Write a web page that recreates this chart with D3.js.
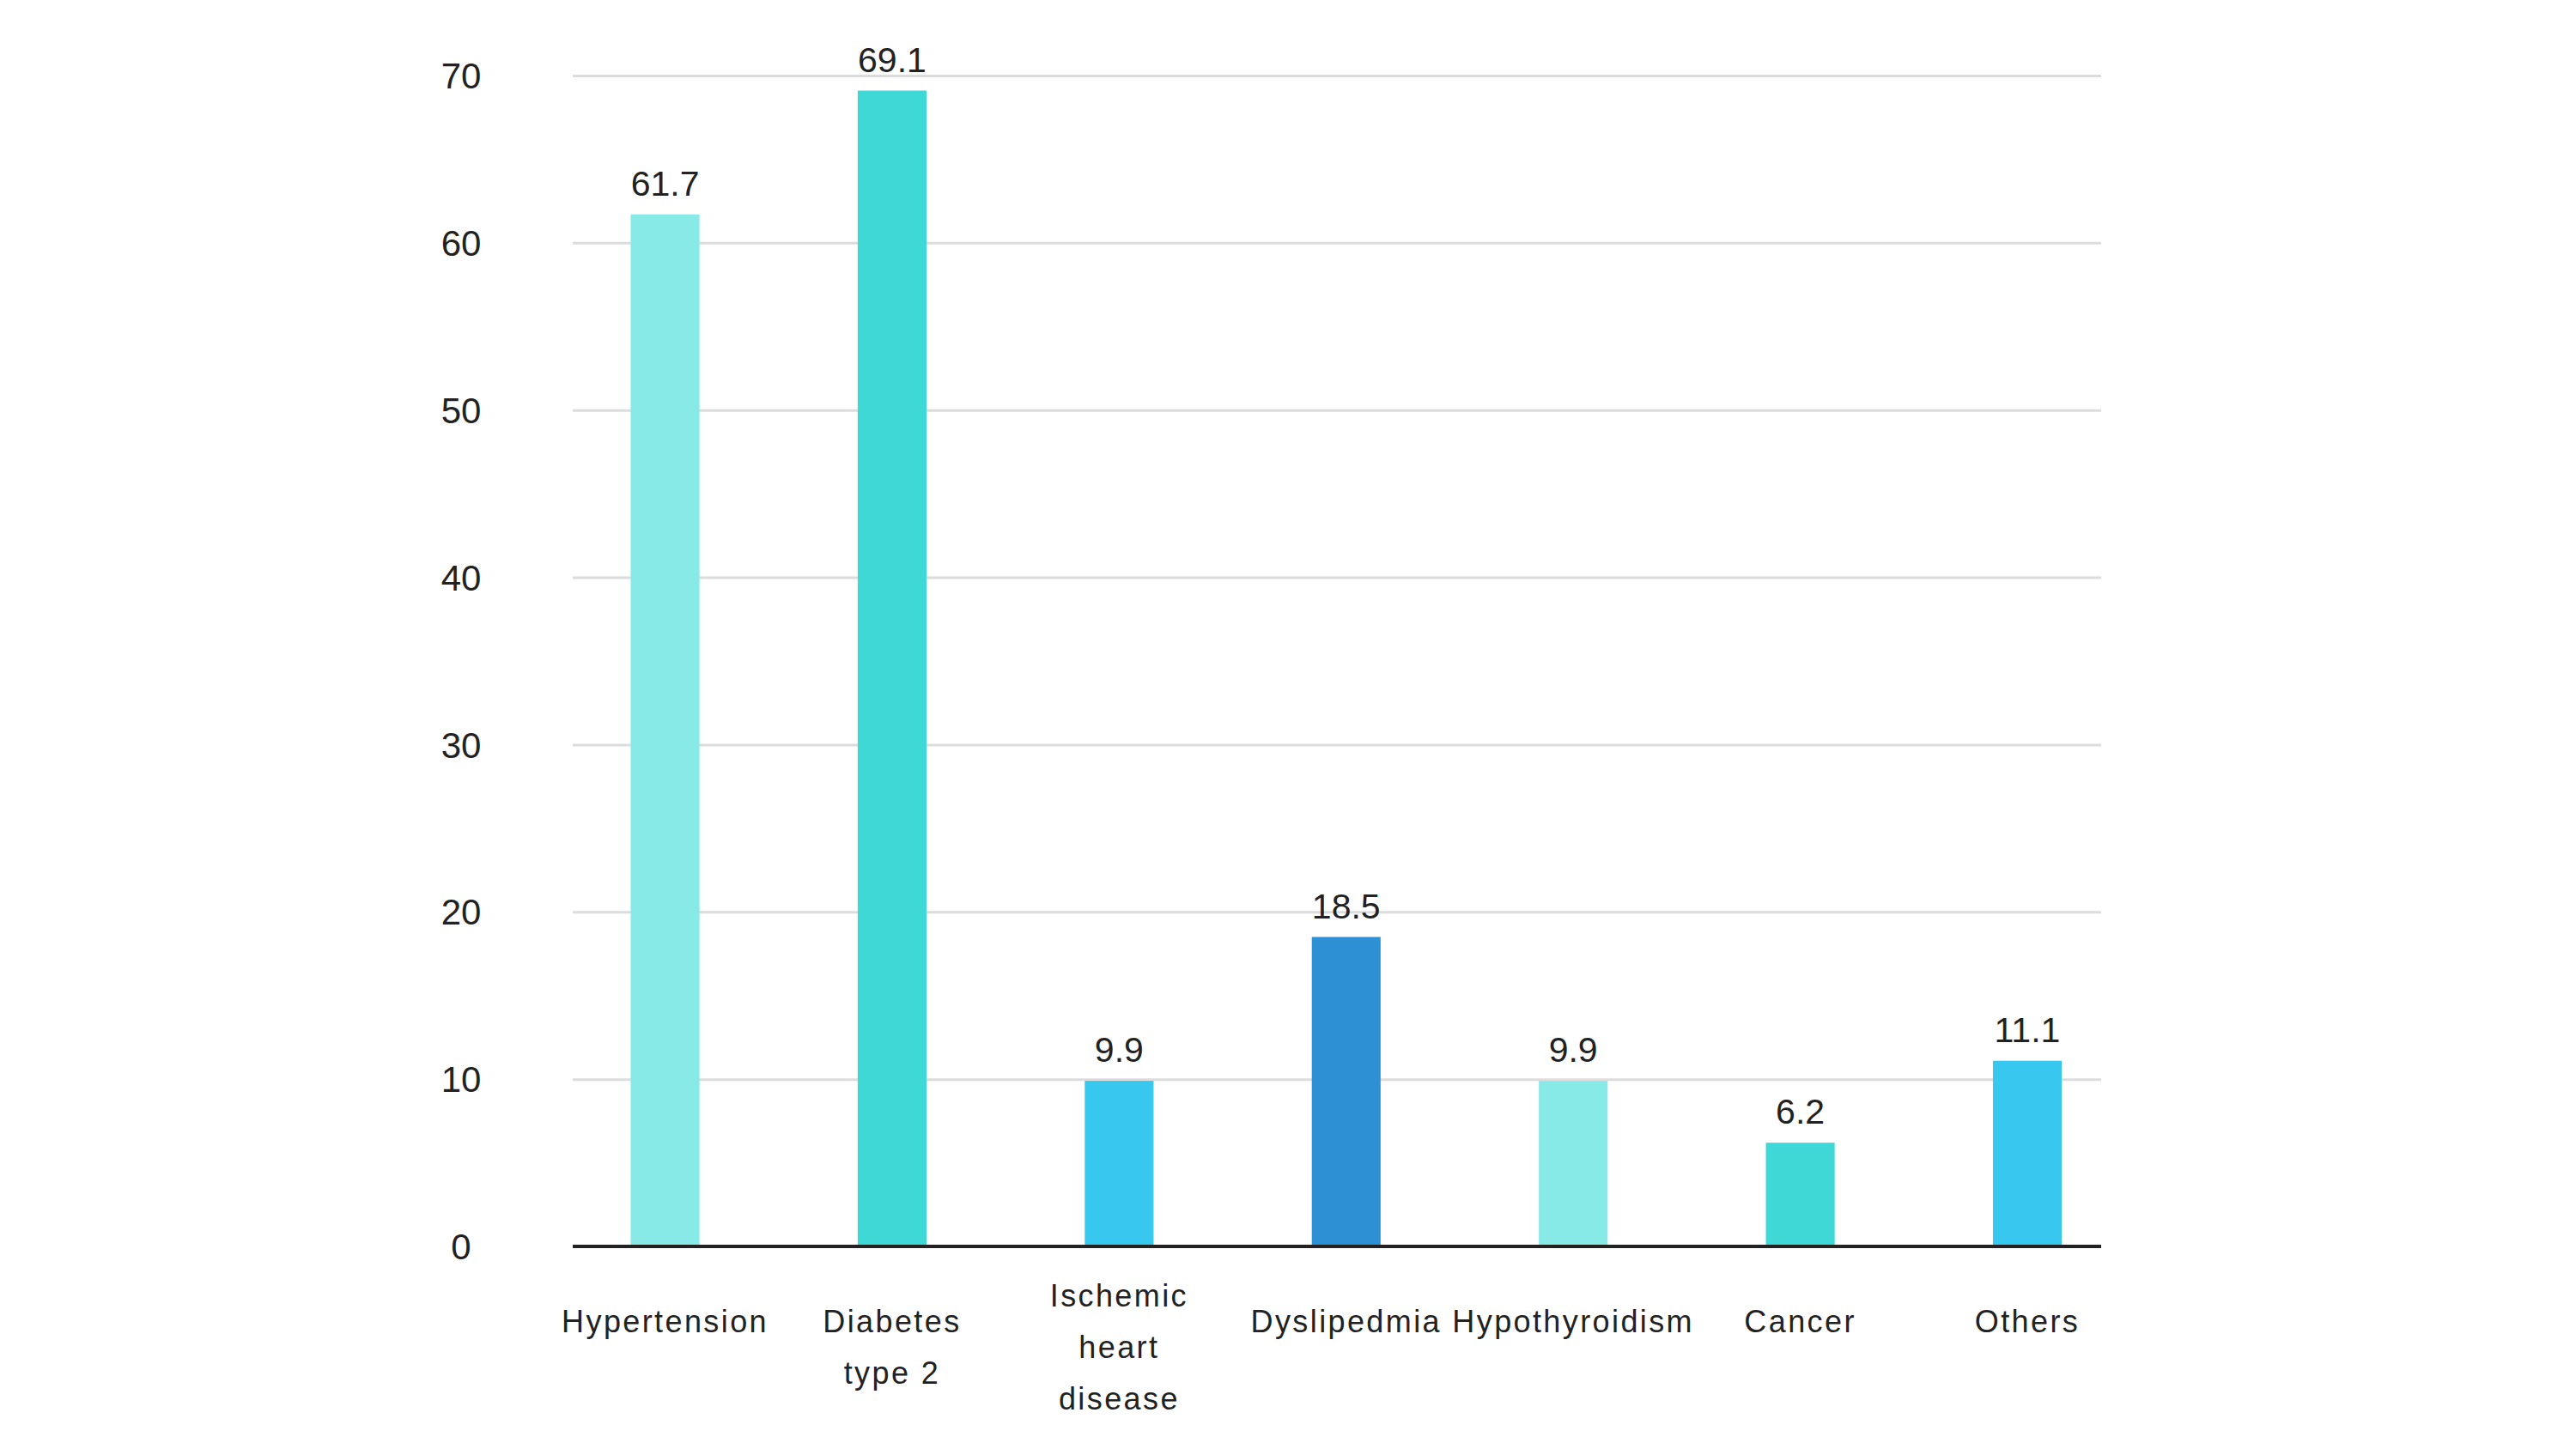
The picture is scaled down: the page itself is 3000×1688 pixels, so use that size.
<!DOCTYPE html>
<html>
<head>
<meta charset="utf-8">
<script src="https://cdn.jsdelivr.net/npm/d3@7"></script>
<style>
  html, body { margin: 0; padding: 0; background: #fff; }
  svg { display: block; font-family: "Liberation Sans", Arial, sans-serif; }
</style>
</head>
<body>
<svg id="chart" width="3000" height="1688"></svg>
<script>
// data
const categories = ["Hypertension", "Diabetes type 2", "Ischemic heart disease", "Dyslipedmia", "Hypothyroidism", "Cancer", "Others"]
const labelLines = [["Hypertension"], ["Diabetes", "type 2"], ["Ischemic", "heart", "disease"], ["Dyslipedmia"], ["Hypothyroidism"], ["Cancer"], ["Others"]]
const values = [61.7, 69.1, 9.9, 18.5, 9.9, 6.2, 11.1]
const barColors = ["#88eae7", "#3ed9d6", "#38c7ee", "#2d90d5", "#88eae7", "#3ed9d6", "#38c7ee"]
const yTicks = [0, 10, 20, 30, 40, 50, 60, 70]

const plotLeft = 667, plotRight = 2447, plotTop = 88, plotBottom = 1452

const svg = d3.select("#chart")

const x = d3.scaleBand()
  .domain(categories)
  .range([plotLeft, plotRight])
  .paddingInner(0.697)
  .paddingOuter(0.2145)
  .align(0.595)

const y = d3.scaleLinear()
  .domain([0, 70])
  .range([plotBottom, plotTop])

// gridlines + tick labels
const yAxis = svg.append("g")
  .attr("transform", `translate(${plotLeft},0)`)
  .call(d3.axisLeft(y).tickValues(yTicks).tickSize(-(plotRight - plotLeft)).tickFormat(d3.format("d")))

yAxis.select(".domain").remove()
yAxis.selectAll(".tick line")
  .attr("stroke", "#dcdcdc")
  .attr("stroke-width", 3)
yAxis.selectAll(".tick text")
  .attr("x", -130)
  .attr("dy", "0.35em")
  .attr("text-anchor", "middle")
  .attr("fill", "#222")
  .style("font-size", "42px")

// bars
svg.append("g")
  .selectAll("rect")
  .data(values)
  .join("rect")
    .attr("x", (d, i) => x(categories[i]))
    .attr("y", d => y(d))
    .attr("width", x.bandwidth())
    .attr("height", d => y(0) - y(d))
    .attr("fill", (d, i) => barColors[i])

// baseline
svg.append("line")
  .attr("x1", plotLeft)
  .attr("x2", plotRight)
  .attr("y1", y(0))
  .attr("y2", y(0))
  .attr("stroke", "#222")
  .attr("stroke-width", 4)

// value labels
svg.append("g")
  .selectAll("text")
  .data(values)
  .join("text")
    .attr("x", (d, i) => x(categories[i]) + x.bandwidth() / 2)
    .attr("y", d => y(d) - 22)
    .attr("text-anchor", "middle")
    .attr("fill", "#222")
    .style("font-size", "41px")
    .text(d => d)

// category labels (wrapped)
const lineHeight = 60
const catLabels = svg.append("g")
  .selectAll("text")
  .data(labelLines)
  .join("text")
    .attr("x", (d, i) => x(categories[i]) + x.bandwidth() / 2)
    .attr("y", d => 1552 - Math.max(0, d.length - 2) * lineHeight / 2)
    .attr("text-anchor", "middle")
    .attr("fill", "#222")
    .style("font-size", "36px")
    .style("letter-spacing", "2.4px")

catLabels.each(function(lines) {
  const t = d3.select(this)
  const cx = t.attr("x")
  lines.forEach((line, j) => {
    t.append("tspan")
      .attr("x", cx)
      .attr("dy", j === 0 ? 0 : lineHeight)
      .text(line)
  })
})
</script>
</body>
</html>
